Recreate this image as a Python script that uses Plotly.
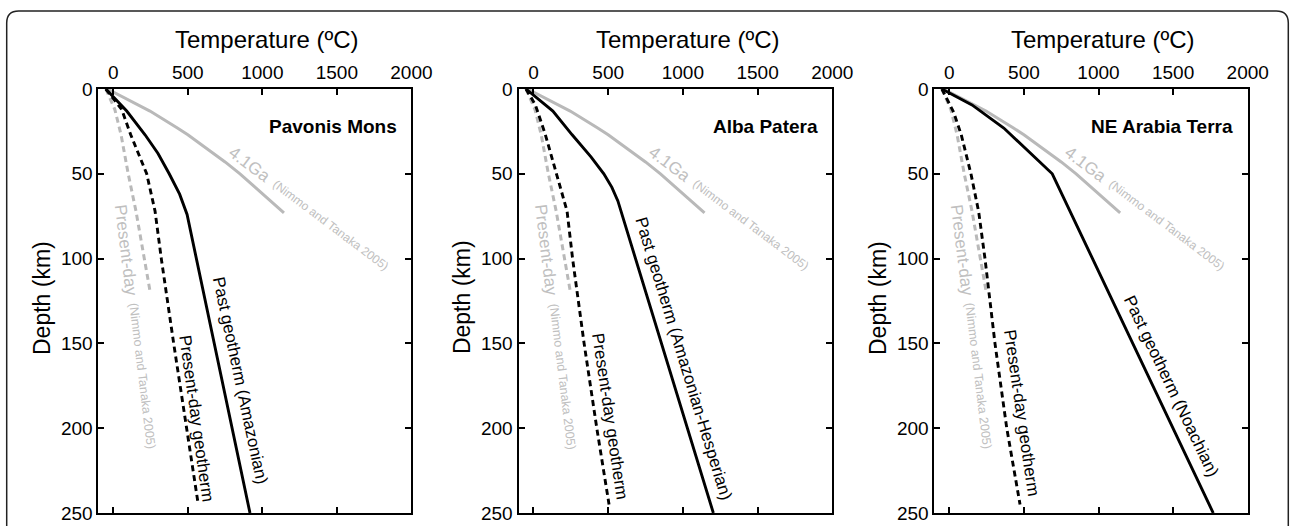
import plotly.graph_objects as go

# ---------------- data ----------------
panel_names = ["Pavonis Mons", "Alba Patera", "NE Arabia Terra"]
past_labels = ["Past geotherm (Amazonian)", "Past geotherm (Amazonian-Hesperian)", "Past geotherm (Noachian)"]

x_ticks = [0, 500, 1000, 1500, 2000]
y_ticks = [0, 50, 100, 150, 200, 250]

# Reference curves (Nimmo and Tanaka 2005), same in every panel
ga41_depth = [0, 13, 23, 27, 43, 50, 73]
ga41_temp = [-40, 246, 430, 500, 750, 850, 1145]

nt_present_depth = [0, 12, 27, 50, 72, 95, 119]
nt_present_temp = [-50, 10, 52, 100, 152, 200, 246]

# Pavonis Mons
pav_past_depth = [0, 13, 27, 38, 50, 62, 74, 250]
pav_past_temp = [-50, 90, 213, 300, 375, 445, 495, 917]
pav_present_depth = [0, 12, 27, 50, 72, 100, 150, 200, 245]
pav_present_temp = [-50, 56, 117, 224, 280, 322, 405, 490, 570]

# Alba Patera
alba_past_depth = [0, 13, 27, 40, 50, 58, 66, 250]
alba_past_temp = [-50, 130, 259, 385, 471, 525, 565, 1204]
alba_present_depth = [0, 9.4, 27, 50, 72, 100, 150, 200, 245]
alba_present_temp = [-50, 13, 80, 154, 225, 262, 339, 424, 506]

# NE Arabia Terra
ara_past_depth = [0, 9.4, 23, 37, 50, 250]
ara_past_temp = [-50, 152, 365, 532, 690, 1769]
ara_present_depth = [0, 13.7, 27, 50, 72.5, 100, 150, 200, 245]
ara_present_temp = [-50, 29, 80, 145, 197, 239, 306, 385, 474]

past_depths = [pav_past_depth, alba_past_depth, ara_past_depth]
past_temps = [pav_past_temp, alba_past_temp, ara_past_temp]
present_depths = [pav_present_depth, alba_present_depth, ara_present_depth]
present_temps = [pav_present_temp, alba_present_temp, ara_present_temp]

# ---------------- layout helpers ----------------
W, H = 1292, 526
FONT = "Liberation Sans, Arial, Helvetica, sans-serif"
GRAY_LINE = "#b9b9b9"
GRAY_TEXT = "#c0c0c0"


def fx(p):
    return p / W


def fy(p):
    return 1 - p / H


panel_px = [(98.4, 411.4), (518.5, 832.3), (934.4, 1247.7)]
y_top_px, y_bot_px = 89, 513

# label positions / angles per panel (data coords)
past_lbl = [(850, 172, 78), (1003, 159, 73), (1484, 175, 64.5)]
present_lbl = [(560, 194, 82), (513, 193, 81.5), (481, 191, 81.7)]

fig = go.Figure()
annotations = []

for i in range(3):
    xa = "x" if i == 0 else f"x{i+1}"
    ya = "y" if i == 0 else f"y{i+1}"
    # Nimmo & Tanaka 4.1 Ga
    fig.add_trace(go.Scatter(x=ga41_temp, y=ga41_depth, mode="lines",
                             line=dict(color=GRAY_LINE, width=3),
                             xaxis=xa, yaxis=ya, showlegend=False, hoverinfo="skip"))
    # Nimmo & Tanaka present day
    fig.add_trace(go.Scatter(x=nt_present_temp, y=nt_present_depth, mode="lines",
                             line=dict(color=GRAY_LINE, width=3, dash="6px,4px"),
                             xaxis=xa, yaxis=ya, showlegend=False, hoverinfo="skip"))
    # present-day geotherm
    fig.add_trace(go.Scatter(x=present_temps[i], y=present_depths[i], mode="lines",
                             line=dict(color="black", width=2.9, dash="6px,4px"),
                             xaxis=xa, yaxis=ya, showlegend=False, hoverinfo="skip"))
    # past geotherm
    fig.add_trace(go.Scatter(x=past_temps[i], y=past_depths[i], mode="lines",
                             line=dict(color="black", width=2.9),
                             xaxis=xa, yaxis=ya, showlegend=False, hoverinfo="skip"))

    x0, x1 = panel_px[i]
    axis_common = dict(showline=True, linewidth=2, linecolor="black", mirror="ticks",
                       ticks="inside", ticklen=6, tickwidth=2, tickcolor="black",
                       showgrid=False, zeroline=False, automargin=False,
                       tickfont=dict(size=19, family=FONT, color="black"))
    fig.update_layout(**{
        ("xaxis" if i == 0 else f"xaxis{i+1}"): dict(
            range=[-100, 2000], domain=[fx(x0), fx(x1)], side="top",
            tickvals=x_ticks, anchor=ya, **axis_common),
        ("yaxis" if i == 0 else f"yaxis{i+1}"): dict(
            range=[250, 0], domain=[fy(y_bot_px), fy(y_top_px)],
            tickvals=y_ticks, anchor=xa, **axis_common),
    })

    def ann(text, x, y, size, color, angle=0, xref=xa, yref=ya, xanchor="center", weight="normal"):
        annotations.append(dict(text=text, xref=xref, yref=yref, x=x, y=y, showarrow=False,
                                textangle=angle, xanchor=xanchor, yanchor="middle",
                                font=dict(size=size, family=FONT, color=color, weight=weight)))

    # axis titles
    ann("Temperature (\u00baC)", 1030, fy(40), 24, "black", yref="paper")
    ann("Depth (km)", fx(x0 - 57), 123, 23, "black", angle=-90, xref="paper")
    # panel name
    ann(panel_names[i], 1915, 22, 19, "black", xanchor="right", weight="bold")
    # 4.1 Ga label (two parts)
    ann("4.1Ga", 913, 44.6, 17, GRAY_TEXT, angle=37)
    ann("(Nimmo and Tanaka 2005)", 1455, 80.4, 12, GRAY_TEXT, angle=37)
    # Nimmo present-day label (two parts)
    ann("Present-day", 82, 94.8, 17, GRAY_TEXT, angle=83)
    ann("(Nimmo and Tanaka 2005)", 192, 169.4, 12.5, GRAY_TEXT, angle=83)
    # present-day geotherm label
    tx, ty, ta = present_lbl[i]
    ann("Present-day geotherm", tx, ty, 17, "black", angle=ta)
    # past geotherm label
    tx, ty, ta = past_lbl[i]
    ann(past_labels[i], tx, ty, 17, "black", angle=ta)

# outer rounded frame (top corners rounded, bottom cut off by the image)
rx, ry = 12 / W, 12 / H
L, R, T = fx(6.7), fx(1288.3), fy(11)
frame_path = (f"M {L},-0.05 L {L},{T - ry} Q {L},{T} {L + rx},{T} "
              f"L {R - rx},{T} Q {R},{T} {R},{T - ry} L {R},-0.05")

fig.update_layout(
    width=W, height=H,
    margin=dict(l=0, r=0, t=0, b=0, autoexpand=False),
    paper_bgcolor="white", plot_bgcolor="white",
    annotations=annotations,
    shapes=[dict(type="path", xref="paper", yref="paper", path=frame_path,
                 line=dict(color="#222222", width=1.5), layer="above")],
    font=dict(family=FONT),
)

fig.write_html("out.html")
